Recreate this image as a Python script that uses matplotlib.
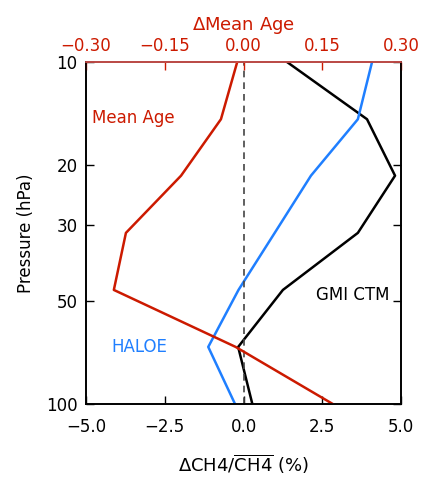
import numpy as np
import matplotlib
matplotlib.use('Agg')
import matplotlib.pyplot as plt

# pressure levels (hPa)
pressure = [10, 14.7, 21.5, 31.6, 46.4, 68.1, 100]

# delta CH4 / CH4 (%)
gmi_ctm = [1.38, 3.92, 4.81, 3.63, 1.25, -0.17, 0.28]
haloe = [4.08, 3.63, 2.14, 0.99, -0.16, -1.12, -0.27]

# delta mean age (years), top axis
mean_age = [-0.012, -0.043, -0.119, -0.224, -0.247, -0.015, 0.170]

red = '#cc1a00'
blue = '#1f7fff'

fig = plt.figure(figsize=(4.25, 4.79), dpi=100)
ax = fig.add_axes([0.2024, 0.1566, 0.7412, 0.714])

ax.plot(gmi_ctm, pressure, color='black', lw=1.8)
ax.plot(haloe, pressure, color=blue, lw=1.8)
ax.axvline(0, color='#444444', lw=1.2, ls=(0, (4, 3)))

ax.set_yscale('log')
ax.set_ylim(100, 10)
ax.set_xlim(-5, 5)
ax.set_yticks([10, 20, 30, 50, 100])
ax.set_yticklabels(['10', '20', '30', '50', '100'])
ax.minorticks_off()
ax.set_xticks([-5, -2.5, 0, 2.5, 5])
ax.set_xticklabels(['\u22125.0', '\u22122.5', '0.0', '2.5', '5.0'])
ax.tick_params(direction='in', length=6, width=1, labelsize=12, right=True)
ax.tick_params(axis='x', pad=10)
ax.tick_params(axis='y', pad=6)
ax.set_ylabel('Pressure (hPa)', fontsize=12, labelpad=8)
ax.set_xlabel(r'$\Delta$CH4/$\overline{\mathrm{CH4}}$ (%)', fontsize=13, labelpad=12)

ax2 = ax.twiny()
ax2.plot(mean_age, pressure, color=red, lw=1.8)
ax2.set_xlim(-0.3, 0.3)
ax2.set_xticks([-0.3, -0.15, 0, 0.15, 0.3])
ax2.set_xticklabels(['\u22120.30', '\u22120.15', '0.00', '0.15', '0.30'])
ax2.tick_params(direction='in', length=6, width=1, labelsize=12, colors=red, pad=5)
ax2.minorticks_off()
ax2.spines['top'].set_color('#d9534f')
ax2.set_xlabel(r'$\Delta$Mean Age', fontsize=13, color=red, labelpad=5)

for a in (ax, ax2):
    for s in a.spines.values():
        s.set_linewidth(1.2)

ax.text(-4.8, 14.6, 'Mean Age', color=red, fontsize=12, va='center')
ax.text(-4.2, 68, 'HALOE', color=blue, fontsize=12, va='center')
ax.text(2.3, 48, 'GMI CTM', color='black', fontsize=12, va='center')

fig.savefig('out.png', dpi=100)
